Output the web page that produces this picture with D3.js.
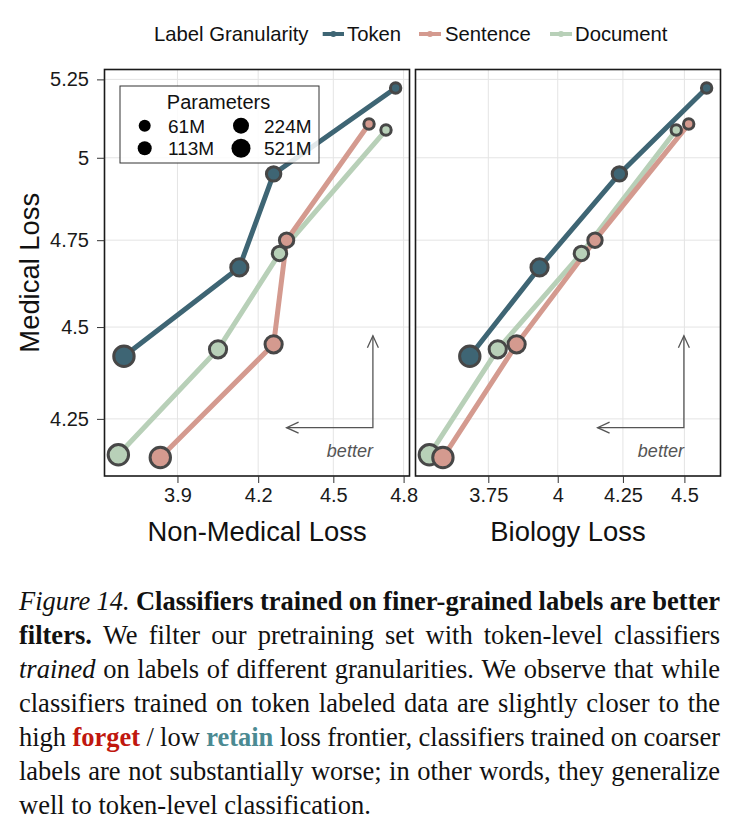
<!DOCTYPE html>
<html>
<head>
<meta charset="utf-8">
<script src="https://cdn.jsdelivr.net/npm/d3@7"></script>
<style>
  html, body { margin: 0; padding: 0; background: #fff; }
  svg { display: block; }
</style>
</head>
<body>
<svg id="chart" width="741" height="828"></svg>
<script>
// ---------------- DATA ----------------
const modelSizes = ["61M", "113M", "224M", "521M"];
const granularities = ["Token", "Sentence", "Document"];

// Medical loss (y), per granularity, in modelSizes order
const medicalToken    = [5.222, 4.950, 4.670, 4.419];
const medicalSentence = [5.106, 4.750, 4.452, 4.149];
const medicalDocument = [5.087, 4.711, 4.438, 4.156];

// Non-medical loss (x, left panel)
const nonMedicalToken    = [4.765, 4.260, 4.128, 3.713];
const nonMedicalSentence = [4.650, 4.311, 4.260, 3.839];
const nonMedicalDocument = [4.723, 4.283, 4.048, 3.694];

// Biology loss (x, right panel)
const biologyToken    = [4.594, 4.236, 3.933, 3.686];
const biologySentence = [4.518, 4.141, 3.850, 3.595];
const biologyDocument = [4.466, 4.089, 3.783, 3.550];

const yTicks = [4.25, 4.5, 4.75, 5, 5.25];
const yTickLabels = ["4.25", "4.5", "4.75", "5", "5.25"];
const nonMedicalTicks = [3.9, 4.2, 4.5, 4.8];
const nonMedicalTickLabels = ["3.9", "4.2", "4.5", "4.8"];
const biologyTicks = [3.75, 4, 4.25, 4.5];
const biologyTickLabels = ["3.75", "4", "4.25", "4.5"];

// ---------------- STYLE ----------------
const colors = { Token: "#3e6574", Sentence: "#d49a8f", Document: "#b8d0b8" };
const pointR = { "61M": 5.2, "113M": 7.2, "224M": 8.6, "521M": 10.2 };
const legendR = { "61M": 6, "113M": 7, "224M": 8, "521M": 9.5 };
const sansFont = "'Liberation Sans', Arial, Helvetica, sans-serif";
const serifFont = "'Liberation Serif', 'Times New Roman', serif";

const medical = { Token: medicalToken, Sentence: medicalSentence, Document: medicalDocument };
const nonMedical = { Token: nonMedicalToken, Sentence: nonMedicalSentence, Document: nonMedicalDocument };
const biology = { Token: biologyToken, Sentence: biologySentence, Document: biologyDocument };

function expandLog(vals) {
  const l = vals.map(Math.log);
  const mn = d3.min(l), mx = d3.max(l), r = mx - mn;
  return [Math.exp(mn - 0.05 * r), Math.exp(mx + 0.05 * r)];
}

const svg = d3.select("#chart");
const plotTop = 69.5, plotBottom = 476;

const y = d3.scaleLog()
  .domain(expandLog([].concat(medicalToken, medicalSentence, medicalDocument)))
  .range([plotBottom, plotTop]);

const panels = [
  { key: "left", xData: nonMedical, x: d3.scaleLog()
      .domain(expandLog([].concat(nonMedicalToken, nonMedicalSentence, nonMedicalDocument)))
      .range([104.5, 409.5]),
    ticks: nonMedicalTicks, tickLabels: nonMedicalTickLabels, title: "Non-Medical Loss" },
  { key: "right", xData: biology, x: d3.scaleLog()
      .domain(expandLog([].concat(biologyToken, biologySentence, biologyDocument)))
      .range([415.5, 720.5]),
    ticks: biologyTicks, tickLabels: biologyTickLabels, title: "Biology Loss" }
];

const drawOrder = ["Document", "Sentence", "Token"];

panels.forEach((p, pi) => {
  const [x0, x1] = p.x.range();
  const g = svg.append("g");
  g.append("rect").attr("x", x0).attr("y", plotTop).attr("width", x1 - x0).attr("height", plotBottom - plotTop).attr("fill", "#fff");
  g.selectAll(".vg").data(p.ticks).enter().append("line")
    .attr("x1", d => p.x(d)).attr("x2", d => p.x(d)).attr("y1", plotTop).attr("y2", plotBottom)
    .attr("stroke", "#e4e4e4").attr("stroke-width", 1);
  g.selectAll(".hg").data(yTicks).enter().append("line")
    .attr("x1", x0).attr("x2", x1).attr("y1", d => y(d)).attr("y2", d => y(d))
    .attr("stroke", "#e4e4e4").attr("stroke-width", 1);

  const line = d3.line().x(d => p.x(d.x)).y(d => y(d.y));
  drawOrder.forEach(s => {
    const pts = modelSizes.map((m, i) => ({ x: p.xData[s][i], y: medical[s][i], m }));
    g.append("path").datum(pts).attr("d", line)
      .attr("fill", "none").attr("stroke", colors[s]).attr("stroke-width", 5)
      .attr("stroke-linejoin", "round").attr("stroke-linecap", "round");
  });
  drawOrder.forEach(s => {
    const pts = modelSizes.map((m, i) => ({ x: p.xData[s][i], y: medical[s][i], m }));
    g.selectAll(null).data(pts).enter().append("circle")
      .attr("cx", d => p.x(d.x)).attr("cy", d => y(d.y)).attr("r", d => pointR[d.m])
      .attr("fill", colors[s]).attr("stroke", "#474747").attr("stroke-width", 3);
  });

  const fx = f => x0 + f * (x1 - x0);
  const fy = f => plotBottom - f * (plotBottom - plotTop);
  const cx = fx(0.88), cy = fy(0.119), ty = fy(0.345), tx = fx(0.597);
  const ann = g.append("g").attr("stroke", "#555").attr("stroke-width", 1.3).attr("fill", "none");
  ann.append("path").attr("d", `M${tx},${cy} L${cx},${cy} L${cx},${ty}`);
  ann.append("path").attr("d", `M${cx - 5.5},${ty + 12} L${cx},${ty} L${cx + 5.5},${ty + 12}`);
  ann.append("path").attr("d", `M${tx + 12},${cy - 5.5} L${tx},${cy} L${tx + 12},${cy + 5.5}`);
  g.append("text").attr("x", cx).attr("y", fy(0.047)).attr("text-anchor", "end")
    .attr("font-family", sansFont).attr("font-style", "italic").attr("font-size", 18)
    .attr("fill", "#555").text("better");

  g.append("rect").attr("x", x0).attr("y", plotTop).attr("width", x1 - x0).attr("height", plotBottom - plotTop)
    .attr("fill", "none").attr("stroke", "#1a1a1a").attr("stroke-width", 1.6);

  const xa = svg.append("g").attr("transform", `translate(0,${plotBottom})`)
    .call(d3.axisBottom(p.x).tickValues(p.ticks).tickFormat((d, i) => p.tickLabels[i]).tickSize(7).tickPadding(5));
  xa.select(".domain").remove();
  xa.selectAll("line").attr("stroke", "#333");
  xa.selectAll("text").attr("font-family", sansFont).attr("font-size", 20).attr("fill", "#1a1a1a");

  svg.append("text").attr("x", (x0 + x1) / 2).attr("y", 541).attr("text-anchor", "middle")
    .attr("font-family", sansFont).attr("font-size", 27.4).attr("fill", "#111").text(p.title);
});

const ya = svg.append("g").attr("transform", `translate(104.5,0)`)
  .call(d3.axisLeft(y).tickValues(yTicks).tickFormat((d, i) => yTickLabels[i]).tickSize(7.5).tickPadding(8));
ya.select(".domain").remove();
ya.selectAll("line").attr("stroke", "#333");
ya.selectAll("text").attr("font-family", sansFont).attr("font-size", 20).attr("fill", "#1a1a1a");

svg.append("text").attr("transform", `translate(38.5,${(plotTop + plotBottom) / 2}) rotate(-90)`)
  .attr("text-anchor", "middle").attr("font-family", sansFont).attr("font-size", 27.4)
  .attr("fill", "#111").text("Medical Loss");

// ---------------- Parameters legend ----------------
const pl = svg.append("g");
pl.append("rect").attr("x", 120).attr("y", 86).attr("width", 199).attr("height", 77)
  .attr("fill", "#fff").attr("fill-opacity", 0.85).attr("stroke", "#333").attr("stroke-width", 1);
pl.append("text").attr("x", 218.5).attr("y", 108.5).attr("text-anchor", "middle")
  .attr("font-family", sansFont).attr("font-size", 20).attr("fill", "#111").text("Parameters");
const legendPos = [
  { m: "61M", cx: 144.7, cy: 125.7, tx: 168 },
  { m: "113M", cx: 144.7, cy: 148.3, tx: 168 },
  { m: "224M", cx: 241, cy: 125.7, tx: 264 },
  { m: "521M", cx: 241, cy: 148.3, tx: 264 }
];
legendPos.forEach(d => {
  pl.append("circle").attr("cx", d.cx).attr("cy", d.cy).attr("r", legendR[d.m]).attr("fill", "#000");
  pl.append("text").attr("x", d.tx).attr("y", d.cy + 6.8).attr("font-family", sansFont)
    .attr("font-size", 19).attr("fill", "#111").text(d.m);
});

// ---------------- Top legend ----------------
const tl = svg.append("g");
tl.append("text").attr("x", 154).attr("y", 41).attr("font-family", sansFont).attr("font-size", 20.3)
  .attr("fill", "#111").text("Label Granularity");
const keyPos = { Token: [322.7, 344, 347], Sentence: [419, 441, 445], Document: [550, 572, 575] };
granularities.forEach(s => {
  const [a, b, t] = keyPos[s];
  tl.append("line").attr("x1", a).attr("x2", b).attr("y1", 34).attr("y2", 34)
    .attr("stroke", colors[s]).attr("stroke-width", 4);
  tl.append("circle").attr("cx", (a + b) / 2).attr("cy", 34).attr("r", 3).attr("fill", colors[s]);
  tl.append("text").attr("x", t).attr("y", 41).attr("font-family", sansFont).attr("font-size", 20.3)
    .attr("fill", "#111").text(s);
});

// ---------------- Caption ----------------
const captionLines = [
  [["Figure 14.", "i"], ["Classifiers trained on finer-grained labels are better", "b"]],
  [["filters.", "b"], ["We filter our pretraining set with token-level classifiers", "n"]],
  [["trained", "i"], ["on labels of different granularities. We observe that while", "n"]],
  [["classifiers trained on token labeled data are slightly closer to the", "n"]],
  [["high", "n"], ["forget", "red"], ["/ low", "n"], ["retain", "teal"], ["loss frontier, classifiers trained on coarser", "n"]],
  [["labels are not substantially worse; in other words, they generalize", "n"]],
  [["well to token-level classification.", "n"]]
];
const capX0 = 19, capX1 = 720, capY0 = 610, capLH = 34, capSize = 26.5;
function styleWord(sel, st) {
  sel.attr("font-style", st === "i" ? "italic" : "normal")
     .attr("font-weight", (st === "b" || st === "red" || st === "teal") ? "bold" : "normal")
     .attr("fill", st === "red" ? "#c0170f" : st === "teal" ? "#4b8a92" : "#111");
}
captionLines.forEach((segs, li) => {
  const words = [];
  segs.forEach(([t, st]) => t.split(" ").forEach(w => { if (w) words.push({ w, st }); }));
  const txt = svg.append("text").attr("y", capY0 + li * capLH)
    .attr("font-family", serifFont).attr("font-size", capSize);
  const spans = words.map(d => {
    const sp = txt.append("tspan").text(d.w);
    styleWord(sp, d.st);
    return sp;
  });
  const widths = spans.map(sp => sp.node().getComputedTextLength());
  const total = d3.sum(widths);
  const justify = li < captionLines.length - 1;
  const spaceW = capSize * 0.25;
  const gap = justify ? (capX1 - capX0 - total) / (words.length - 1) : spaceW;
  let cx = capX0;
  spans.forEach((sp, i) => { sp.attr("x", cx); cx += widths[i] + gap; });
});
</script>
</body>
</html>
